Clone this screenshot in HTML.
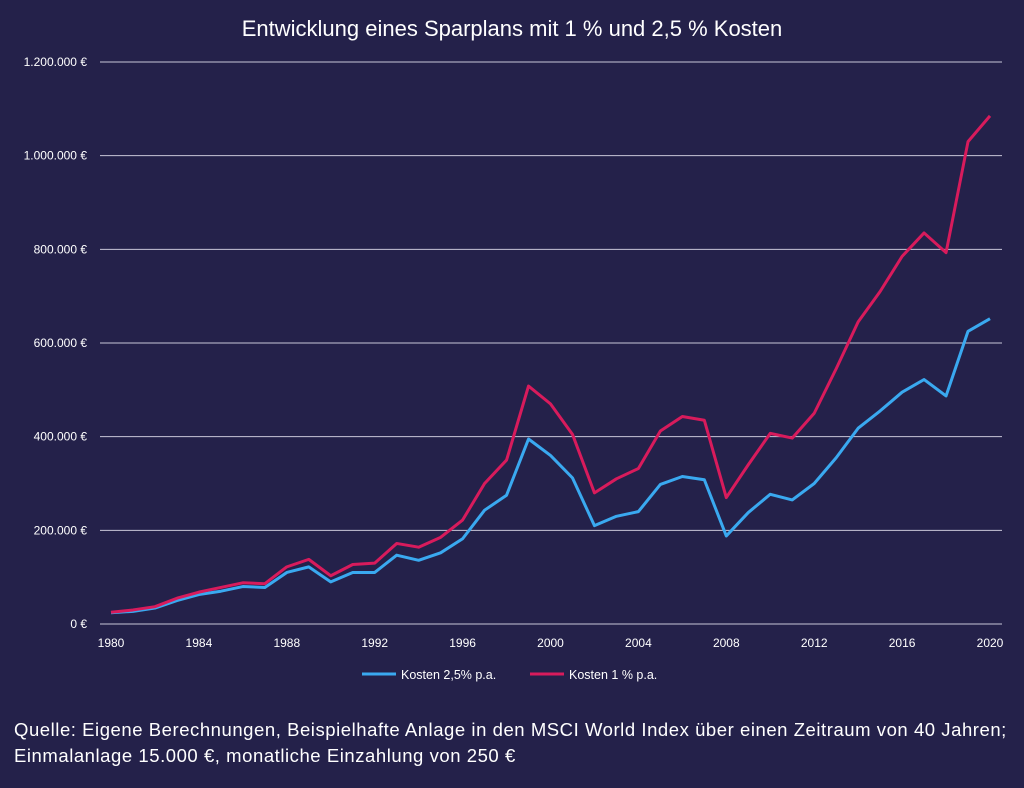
<!DOCTYPE html>
<html><head><meta charset="utf-8"><style>
body{margin:0;background:#24214a;width:1024px;height:788px;overflow:hidden;font-family:"Liberation Sans",sans-serif;}
svg{position:absolute;left:0;top:0}
.src{position:absolute;left:14px;top:717px;color:#fff;font-size:18.5px;letter-spacing:0.55px;line-height:26px;white-space:nowrap;}
</style></head><body>
<svg width="1024" height="788" id="chart">
<text x="512" y="36" text-anchor="middle" fill="#fff" font-size="22">Entwicklung eines Sparplans mit 1 % und 2,5 % Kosten</text>
<g id="grid"></g><g id="lines"></g>
<g>
<line x1="362" y1="674" x2="396" y2="674" stroke="#3aa9f0" stroke-width="3"/>
<text x="401" y="679" fill="#fff" font-size="12.5">Kosten 2,5% p.a.</text>
<line x1="530" y1="674" x2="564" y2="674" stroke="#d81b5c" stroke-width="3"/>
<text x="569" y="679" fill="#fff" font-size="12.5">Kosten 1 % p.a.</text>
</g>
</svg>
<div class="src">Quelle: Eigene Berechnungen, Beispielhafte Anlage in den MSCI World Index über einen Zeitraum von 40 Jahren;<br>Einmalanlage 15.000 €, monatliche Einzahlung von 250 €</div>
<script>
const years=[];for(let y=1980;y<=2020;y++)years.push(y);
const red=[25,30,37,55,68,78,88,86,122,138,103,127,130,172,164,185,222,300,350,508,470,405,280,310,332,412,443,435,270,340,407,397,450,545,645,710,785,835,793,1030,1085];
const blue=[24,27,34,50,63,70,80,78,110,122,90,110,110,147,136,152,182,243,275,395,360,312,210,230,240,298,315,308,188,238,277,265,300,355,418,455,495,522,487,625,652];
const yTicks=[0,200,400,600,800,1000,1200];
const yLabels=["0 €","200.000 €","400.000 €","600.000 €","800.000 €","1.000.000 €","1.200.000 €"];
const xTicks=[1980,1984,1988,1992,1996,2000,2004,2008,2012,2016,2020];
const NS="http://www.w3.org/2000/svg";
const X=v=>111+(v-1980)*(990-111)/40;
const Y=v=>624-v*(624-62)/1200;
const grid=document.getElementById('grid'),lines=document.getElementById('lines');
yTicks.forEach((t,i)=>{
 const l=document.createElementNS(NS,'line');
 l.setAttribute('x1',100);l.setAttribute('x2',1002);l.setAttribute('y1',Y(t));l.setAttribute('y2',Y(t));
 l.setAttribute('stroke','#c8c6d8');l.setAttribute('stroke-width','1');
 
 
 grid.appendChild(l);
 const tx=document.createElementNS(NS,'text');
 tx.setAttribute('x',87);tx.setAttribute('y',Y(t)+4);tx.setAttribute('text-anchor','end');
 tx.setAttribute('fill','#fff');tx.setAttribute('font-size','12');tx.textContent=yLabels[i];
 
 
 grid.appendChild(tx);
});
xTicks.forEach(t=>{
 const tx=document.createElementNS(NS,'text');
 tx.setAttribute('x',X(t));tx.setAttribute('y',647);tx.setAttribute('text-anchor','middle');
 tx.setAttribute('fill','#fff');tx.setAttribute('font-size','12');tx.textContent=t;
 
 
 grid.appendChild(tx);
});
function line(data,color,name){
 const p=document.createElementNS(NS,'polyline');
 p.setAttribute('points',data.map((v,i)=>X(years[i])+','+Y(v)).join(' '));
 p.setAttribute('fill','none');p.setAttribute('stroke',color);p.setAttribute('stroke-width','3');
 p.setAttribute('stroke-linejoin','round');
 
 
 lines.appendChild(p);
}
line(blue,'#3aa9f0','series-kosten-2-5');
line(red,'#d81b5c','series-kosten-1');
</script>
</body></html>
